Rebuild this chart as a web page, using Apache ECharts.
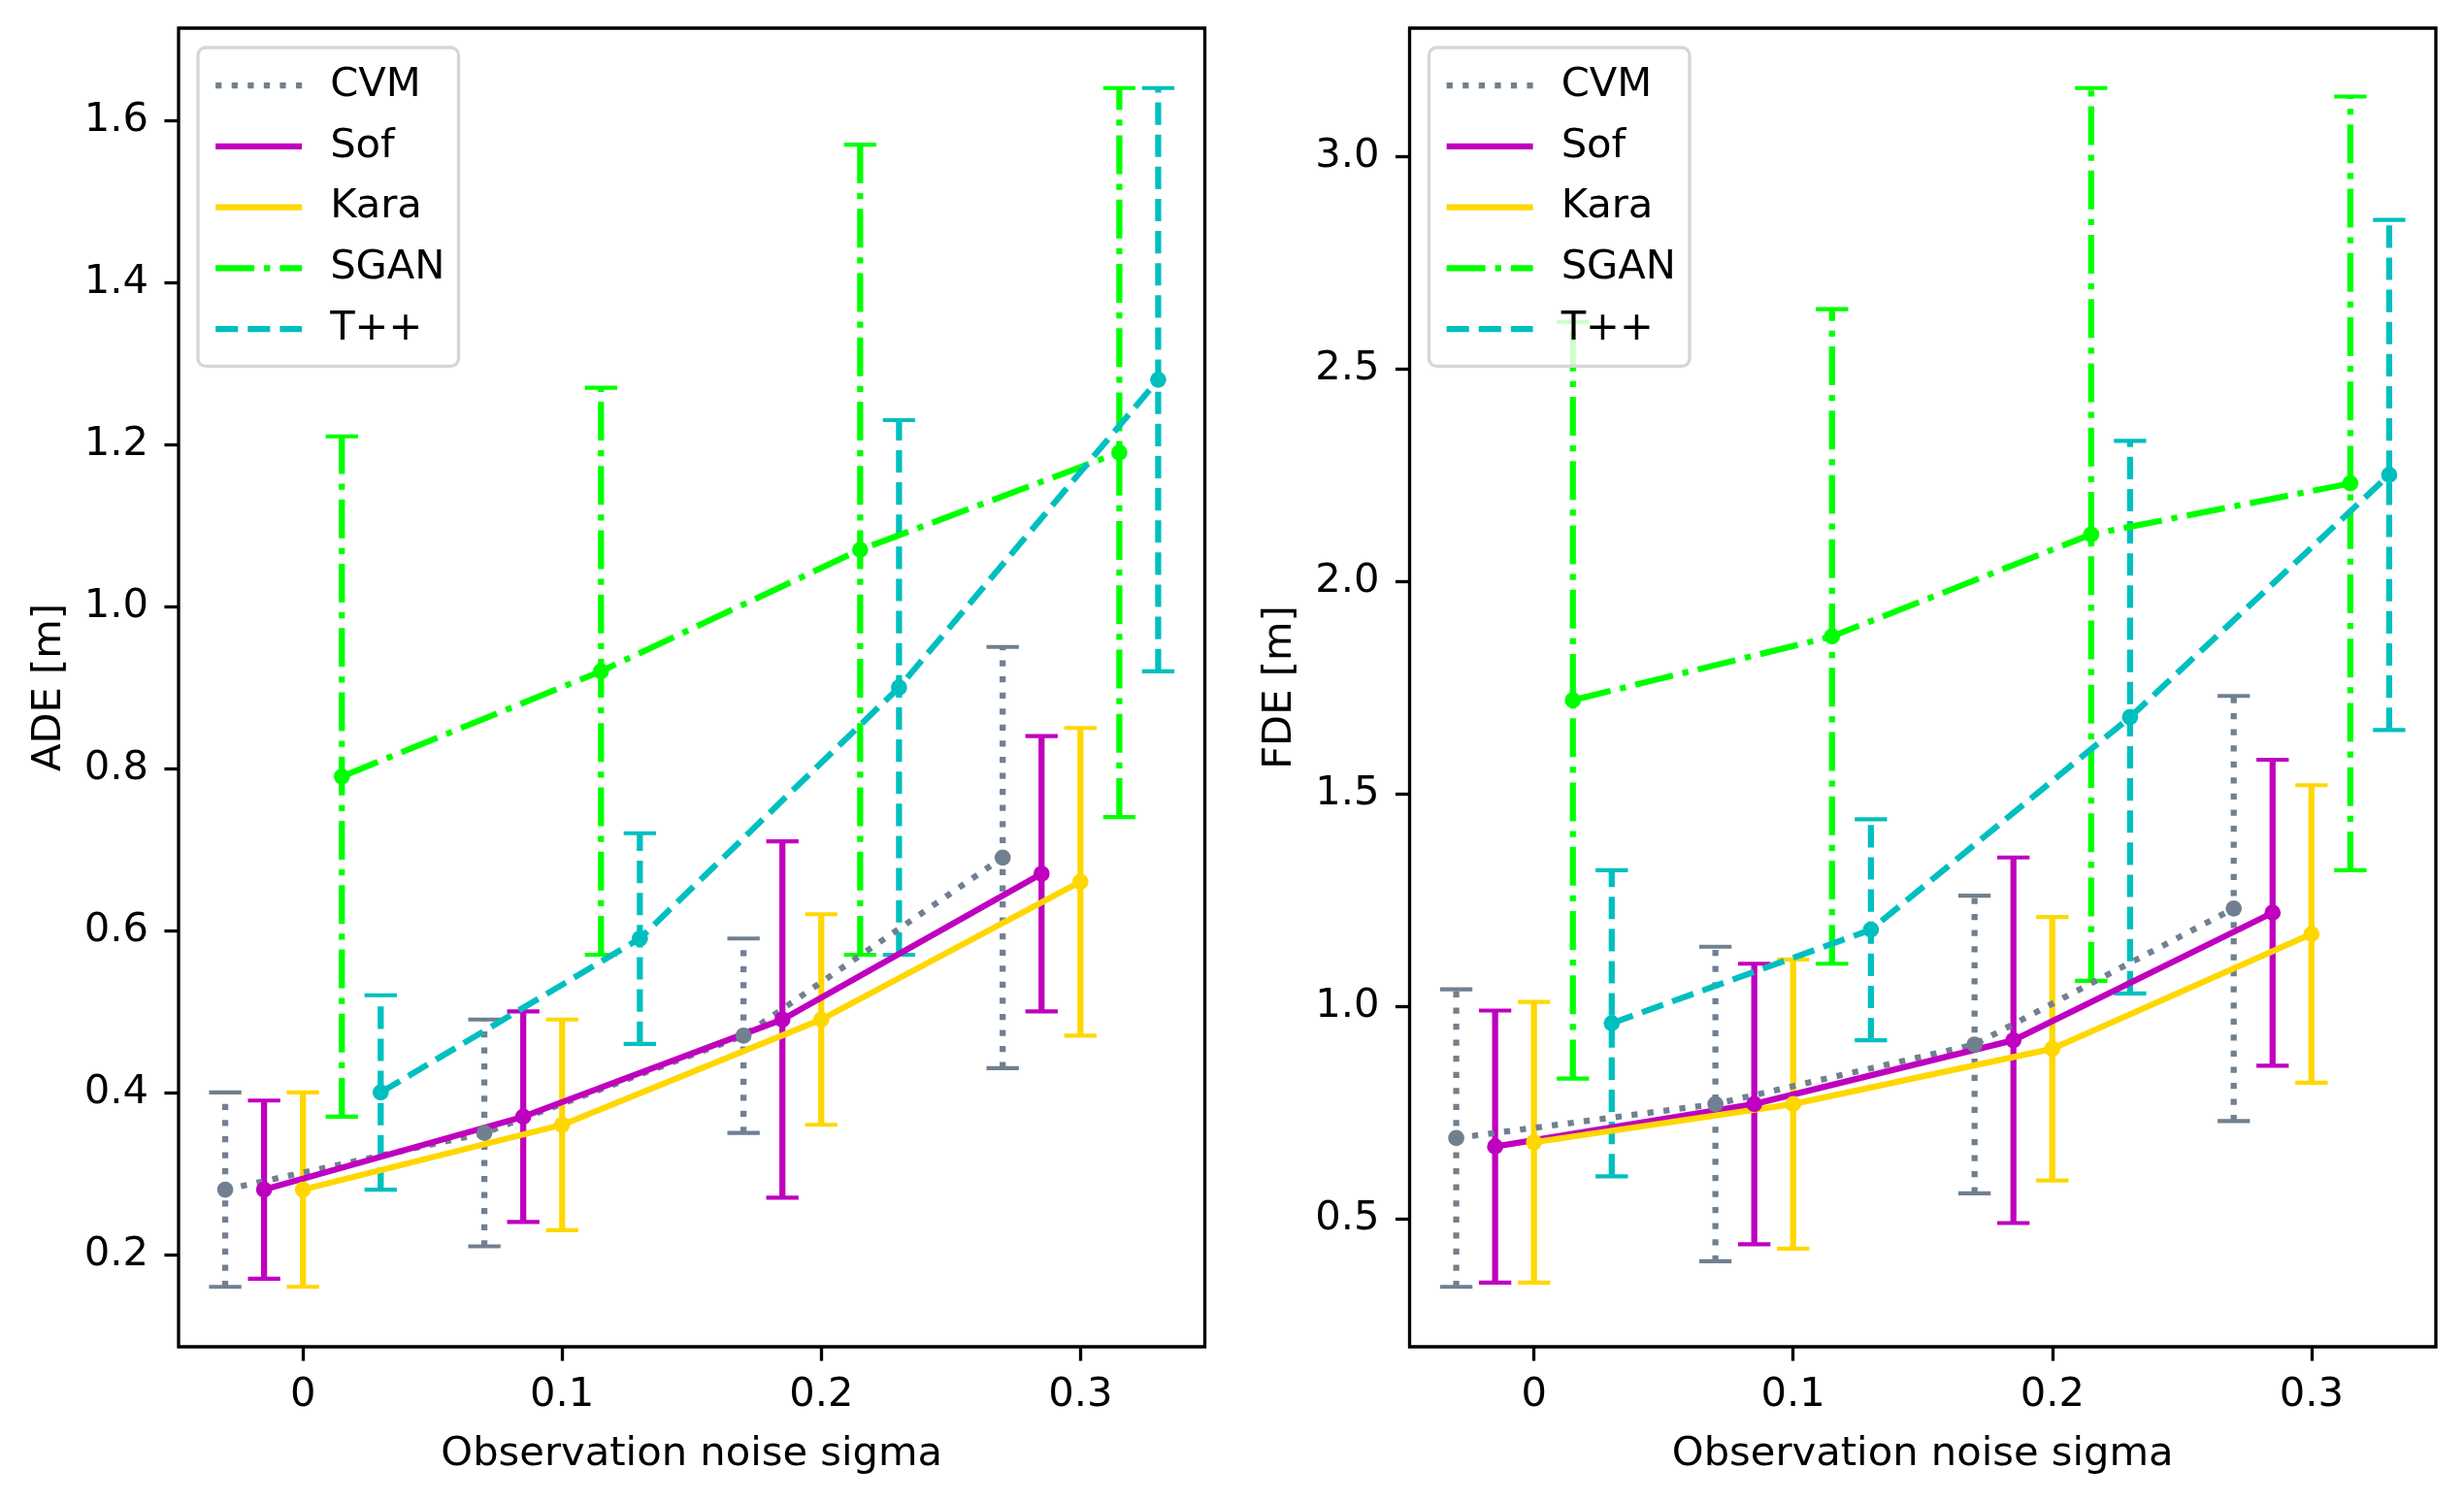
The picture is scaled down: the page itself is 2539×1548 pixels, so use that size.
<!DOCTYPE html>
<html>
<head>
<meta charset="utf-8">
<script src="https://cdn.jsdelivr.net/npm/echarts@6/dist/echarts.min.js"></script>
<style>
  html, body { margin: 0; padding: 0; background: #fff; }
  #chart { width: 2539px; height: 1548px; }
</style>
</head>
<body>
<div id="chart"></div>
<script>
/* ADE / FDE vs observation noise, mean with +/- error bars */

const noiseSigma = [0, 0.1, 0.2, 0.3];
const modelNames = ['CVM', 'Sof', 'Kara', 'SGAN', 'T++'];

// rows follow modelNames
const adeMean = [
  [0.28, 0.35, 0.47, 0.69],
  [0.28, 0.37, 0.49, 0.67],
  [0.28, 0.36, 0.49, 0.66],
  [0.79, 0.92, 1.07, 1.19],
  [0.40, 0.59, 0.90, 1.28]
];
const adeErr = [
  [0.12, 0.14, 0.12, 0.26],
  [0.11, 0.13, 0.22, 0.17],
  [0.12, 0.13, 0.13, 0.19],
  [0.42, 0.35, 0.50, 0.45],
  [0.12, 0.13, 0.33, 0.36]
];
const fdeMean = [
  [0.69, 0.77, 0.91, 1.23],
  [0.67, 0.77, 0.92, 1.22],
  [0.68, 0.77, 0.90, 1.17],
  [1.72, 1.87, 2.11, 2.23],
  [0.96, 1.18, 1.68, 2.25]
];
const fdeErr = [
  [0.35, 0.37, 0.35, 0.50],
  [0.32, 0.33, 0.43, 0.36],
  [0.33, 0.34, 0.31, 0.35],
  [0.89, 0.77, 1.05, 0.91],
  [0.36, 0.26, 0.65, 0.60]
];

const xTicks = [0, 0.1, 0.2, 0.3];
const adeTicks = [0.2, 0.4, 0.6, 0.8, 1.0, 1.2, 1.4, 1.6];
const fdeTicks = [0.5, 1.0, 1.5, 2.0, 2.5, 3.0];

// matplotlib-ish sizes at 300 dpi
const PT = 300 / 72;
const FONT = 'DejaVu Sans';
const FS = 10 * PT;
const LW = 1.5 * PT;

const modelStyles = [
  { color: '#708090', dash: [1 * LW, 1.65 * LW], shift: -0.03 },
  { color: '#bf00bf', dash: 'solid', shift: -0.015 },
  { color: '#ffd700', dash: 'solid', shift: 0 },
  { color: '#00ff00', dash: [6.4 * LW, 1.6 * LW, 1 * LW, 1.6 * LW], shift: 0.015 },
  { color: '#00bfbf', dash: [3.7 * LW, 1.6 * LW], shift: 0.03 }
];

const panels = [
  { left: 184, yName: 'ADE [m]', mean: adeMean, err: adeErr, ticks: adeTicks },
  { left: 1452.5, yName: 'FDE [m]', mean: fdeMean, err: fdeErr, ticks: fdeTicks }
];

const chart = echarts.init(document.getElementById('chart'), null, { renderer: 'canvas' });

const padMin = v => v.min - 0.05 * (v.max - v.min);
const padMax = v => v.max + 0.05 * (v.max - v.min);
const textStyle = { fontFamily: FONT, fontSize: FS, color: '#000' };
const tickStyle = { color: '#000', width: 0.8 * PT };

function errorBarRenderer(style) {
  const half = 4 * PT;
  return function (params, api) {
    const x = api.value(0);
    const lo = api.coord([x, api.value(1)]);
    const hi = api.coord([x, api.value(2)]);
    const bar = { stroke: style.color, lineWidth: LW };
    if (style.dash !== 'solid') bar.lineDash = style.dash;
    const cap = { stroke: style.color, lineWidth: 1 * PT };
    return {
      type: 'group',
      children: [
        { type: 'line', shape: { x1: lo[0], y1: lo[1], x2: hi[0], y2: hi[1] }, style: bar },
        { type: 'line', shape: { x1: lo[0] - half, y1: lo[1], x2: lo[0] + half, y2: lo[1] }, style: cap },
        { type: 'line', shape: { x1: hi[0] - half, y1: hi[1], x2: hi[0] + half, y2: hi[1] }, style: cap }
      ]
    };
  };
}

const grid = [], xAxis = [], yAxis = [], legend = [], bars = [], lines = [];

panels.forEach((p, pi) => {
  grid.push({
    left: p.left, top: 29, width: 1057.5, height: 1359,
    show: true, borderColor: '#000', borderWidth: 0.8 * PT, backgroundColor: '#fff'
  });

  xAxis.push({
    type: 'value', gridIndex: pi, min: padMin, max: padMax,
    name: 'Observation noise sigma', nameLocation: 'middle', nameGap: 90,
    nameTextStyle: textStyle,
    axisLine: { show: false, onZero: false },
    axisTick: { show: true, inside: false, length: 3.5 * PT, lineStyle: tickStyle, customValues: xTicks },
    axisLabel: Object.assign({ customValues: xTicks, margin: 29, formatter: v => v === 0 ? '0' : v.toFixed(1) }, textStyle),
    splitLine: { show: false }
  });

  yAxis.push({
    type: 'value', gridIndex: pi, min: padMin, max: padMax,
    name: p.yName, nameLocation: 'middle', nameGap: 112,
    nameTextStyle: textStyle,
    axisLine: { show: false, onZero: false },
    axisTick: { show: true, inside: false, length: 3.5 * PT, lineStyle: tickStyle, customValues: p.ticks },
    axisLabel: Object.assign({ customValues: p.ticks, margin: 31, formatter: v => v.toFixed(1) }, textStyle),
    splitLine: { show: false }
  });

  legend.push({
    orient: 'vertical', left: p.left + 20, top: 49,
    data: modelNames,
    itemWidth: 89, itemHeight: 20, itemGap: 20.7,
    padding: [18.2, 14, 17.4, 15],
    backgroundColor: 'rgba(255,255,255,0.8)',
    borderColor: '#d6d6d6', borderWidth: 0.8 * PT, borderRadius: 8,
    itemStyle: { opacity: 0 },
    lineStyle: { width: LW },
    textStyle: Object.assign({ lineHeight: 42, padding: [0, 0, 0, 24] }, textStyle),
    selectedMode: false
  });

  modelNames.forEach((name, mi) => {
    const st = modelStyles[mi];
    const xs = noiseSigma.map(s => s + st.shift);

    bars.push({
      type: 'custom', xAxisIndex: pi, yAxisIndex: pi, z: 2, silent: true,
      renderItem: errorBarRenderer(st),
      encode: { x: 0, y: [1, 2] },
      data: xs.map((x, k) => [x, p.mean[mi][k] - p.err[mi][k], p.mean[mi][k] + p.err[mi][k]])
    });

    lines.push({
      name, type: 'line', xAxisIndex: pi, yAxisIndex: pi, z: 3, silent: true,
      symbol: 'circle', symbolSize: 16.7, showSymbol: true,
      lineStyle: { color: st.color, width: LW, type: st.dash },
      itemStyle: { color: st.color },
      emphasis: { disabled: true },
      data: xs.map((x, k) => [x, p.mean[mi][k]])
    });
  });
});

chart.setOption({
  animation: false,
  backgroundColor: '#fff',
  grid, xAxis, yAxis, legend,
  series: bars.concat(lines)
});
</script>
</body>
</html>
